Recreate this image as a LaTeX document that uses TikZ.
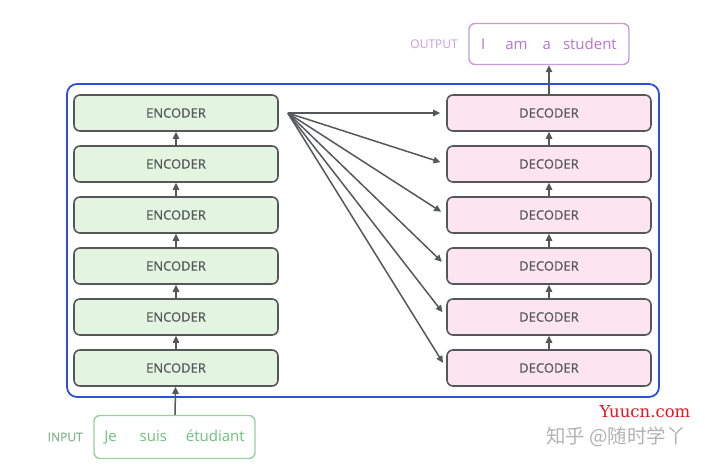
\documentclass[tikz,border=0pt]{standalone}
\usepackage{fontspec}
\setmainfont{Open Sans}
\newfontfamily\semifont{Open Sans}[FakeBold=0.7]
\newfontfamily\cjkfont{Noto Sans CJK SC}
\newfontfamily\markfont{DejaVu Serif}
\usepackage{xcolor}
\definecolor{EncGreen}{HTML}{E3F5E0}
\definecolor{DecPink}{HTML}{FCE5EF}
\definecolor{EdgeGray}{HTML}{55575B}
\definecolor{StackBlue}{HTML}{2E4FDD}
\definecolor{OutPurple}{HTML}{C79BDB}
\definecolor{OutText}{HTML}{B774D2}
\definecolor{InGreen}{HTML}{93D49C}
\definecolor{InText}{HTML}{6CC27B}
\definecolor{InLabel}{HTML}{86B48E}
\usepackage{tikz}
\usetikzlibrary{arrows.meta,positioning}

\begin{document}
\begin{tikzpicture}[x=1pt,y=1pt,node distance=13.4pt,>={Triangle[length=7pt,width=6.5pt]},
  every node/.style={font=\fontsize{13}{15}\selectfont,text=EdgeGray},
  enc/.style={draw=EdgeGray,line width=1.6pt,rounded corners=6pt,fill=EncGreen,minimum width=204pt,minimum height=36pt,font=\semifont\fontsize{13}{15}\selectfont},
  dec/.style={enc,fill=DecPink},
  link/.style={->,draw=EdgeGray,line width=1.5pt},
  wordbox/.style={rounded corners=6pt,line width=1.4pt,font=\fontsize{15}{17}\selectfont}]
\useasboundingbox (0,0) rectangle (705,467);
% encoder and decoder stacks
\node[enc] (enc1) at (176,99) {ENCODER};
\node[enc,above=of enc1] (enc2) {ENCODER};
\node[enc,above=of enc2] (enc3) {ENCODER};
\node[enc,above=of enc3] (enc4) {ENCODER};
\node[enc,above=of enc4] (enc5) {ENCODER};
\node[enc,above=of enc5] (enc6) {ENCODER};
\node[dec] (dec1) at (549,99) {DECODER};
\node[dec,above=of dec1] (dec2) {DECODER};
\node[dec,above=of dec2] (dec3) {DECODER};
\node[dec,above=of dec3] (dec4) {DECODER};
\node[dec,above=of dec4] (dec5) {DECODER};
\node[dec,above=of dec5] (dec6) {DECODER};
\draw[StackBlue,line width=1.8pt,rounded corners=10pt] (67,70) rectangle (659,383);
% input and output
\node[wordbox,draw=InGreen,text=InText,minimum width=161pt,minimum height=43pt] (input) at (174.5,30) {Je\hspace{23pt}suis\hspace{19pt}étudiant};
\node[left=7pt of input,text=InLabel,font=\semifont\fontsize{12}{14}\selectfont] (inlabel) {INPUT};
\node[wordbox,draw=OutPurple,text=OutText,minimum width=160pt,minimum height=41pt] (output) at (549,423) {I\hspace{20pt}am\hspace{15pt}a\hspace{12pt}student};
\node[left=7pt of output,text=OutPurple,font=\fontsize{12}{14}\selectfont] (outlabel) {OUTPUT};
% stack links
\draw[link] (input) -- (enc1);
\draw[link] (enc1) -- (enc2);
\draw[link] (enc2) -- (enc3);
\draw[link] (enc3) -- (enc4);
\draw[link] (enc4) -- (enc5);
\draw[link] (enc5) -- (enc6);
\draw[link] (dec1) -- (dec2);
\draw[link] (dec2) -- (dec3);
\draw[link] (dec3) -- (dec4);
\draw[link] (dec4) -- (dec5);
\draw[link] (dec5) -- (dec6);
\draw[link] (dec6) -- (output);
% encoder output to every decoder
\coordinate[right=9pt of enc6] (fan);
\draw[link,shorten >=6pt] (fan) -- (dec6.west);
\draw[link,shorten >=6pt] (fan) -- (dec5.west);
\draw[link,shorten >=6pt] (fan) -- (dec4.west);
\draw[link,shorten >=6pt] (fan) -- (dec3.west);
\draw[link,shorten >=6pt] (fan) -- (dec2.west);
\draw[link,shorten >=6pt] (fan) -- (dec1.west);
% watermark
\node[text={rgb,255:red,230;green,20;blue,30},font=\markfont\fontsize{16.5}{19}\selectfont] (site) at (645,55) {Yuucn.com};
\node[text=gray!60,font=\cjkfont\fontsize{19.5}{22}\selectfont] (zhihu) at (616,30) {知乎 @随时学丫};
\end{tikzpicture}
\end{document}
